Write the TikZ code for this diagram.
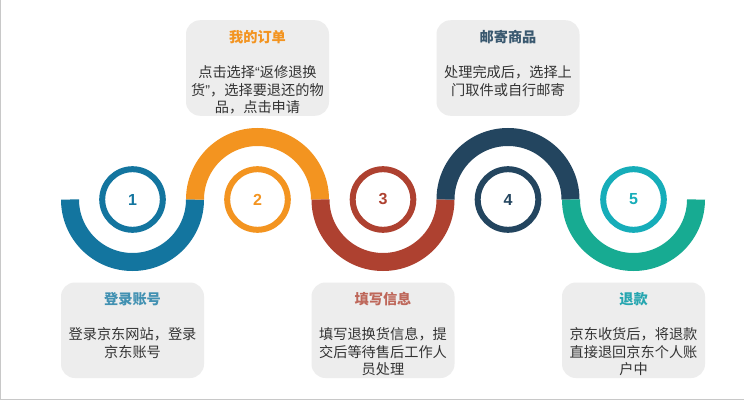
\documentclass[tikz,border=0pt]{standalone}
\usepackage{fontspec}
\setmainfont{Noto Sans CJK SC}
\newfontfamily\numfont{Liberation Sans}
\definecolor{cblue}{HTML}{13759F}
\definecolor{corange}{HTML}{F39420}
\definecolor{cred}{HTML}{AE4130}
\definecolor{cnavy}{HTML}{23455F}
\definecolor{ccyan}{HTML}{16ADB9}
\definecolor{cgreen}{HTML}{17AB92}
\definecolor{boxgray}{HTML}{EDEDED}
\definecolor{bodygray}{HTML}{333333}
\definecolor{edgegray}{HTML}{C8C8C8}
\tikzset{
  band/.style={line width=18pt,line cap=butt,draw=#1},
  ring/.style={circle,draw=#1,line width=6pt,fill=white,minimum size=60.6pt,inner sep=0pt,
    font=\numfont\bfseries\fontsize{16}{16}\selectfont,text=#1},
  infobox/.style={rectangle,rounded corners=14pt,fill=boxgray,minimum width=143pt,minimum height=95.5pt,inner sep=0pt},
  boxtitle/.style={font=\fontsize{14.2}{17}\selectfont\bfseries,text=#1,inner sep=0pt},
  boxbody/.style={font=\fontsize{14.2}{17.4}\selectfont,text=bodygray,align=center,inner sep=0pt,anchor=north},
}
\begin{document}
\begin{tikzpicture}[x=1pt,y=1pt]
\useasboundingbox (0,0) rectangle (744,400);
\fill[white] (0,0) rectangle (744,400);
\draw[edgegray,line width=1pt] (0.5,400) -- (0.5,0.5) -- (744,0.5);
% wave bands
\draw[band=cblue]   (70,200.5) arc[start angle=180,end angle=360,radius=62.5];
\draw[band=corange] (195,200.5) arc[start angle=180,end angle=0,radius=62.5];
\draw[band=cred]    (320.5,200.5) arc[start angle=180,end angle=360,radius=62.5];
\draw[band=cnavy]   (445.5,200.5) arc[start angle=180,end angle=0,radius=62.5];
\draw[band=cgreen]  (571,200.5) arc[start angle=180,end angle=360,radius=62.5];
% rings
\node[ring=cblue]   (n1) at (132.5,200.5) {1};
\node[ring=corange] (n2) at (257.5,200.5) {2};
\node[ring=cred]    (n3) at (383,200.5) {3};
\node[ring=cnavy]   (n4) at (508,200.5) {4};
\node[ring=ccyan]   (n5) at (633.5,200.5) {5};
% boxes
\node[infobox] (b1) at (132.5,69.75) {};
\node[infobox] (b2) at (257.5,332) {};
\node[infobox] (b3) at (383,69.75) {};
\node[infobox] (b4) at (508,332) {};
\node[infobox] (b5) at (633.5,69.75) {};
% titles
\node[boxtitle=cblue!80!white]   (t1) at (132.5,101) {登录账号};
\node[boxtitle=corange]          (t2) at (257.5,363) {我的订单};
\node[boxtitle=cred!80!white]    (t3) at (383,101) {填写信息};
\node[boxtitle=cnavy!90!white]   (t4) at (508,363) {邮寄商品};
\node[boxtitle=ccyan!85!gray]    (t5) at (633.5,101) {退款};
% bodies
\node[boxbody] (d1) at (132.5,72.5) {登录京东网站，登录\\京东账号};
\node[boxbody] (d2) at (257.5,334.5) {点击选择{\numfont “}返修退换\\货{\numfont ”}，选择要退还的物\\品，点击申请};
\node[boxbody] (d3) at (383,72.5) {填写退换货信息，提\\交后等待售后工作人\\员处理};
\node[boxbody] (d4) at (508,334.5) {处理完成后，选择上\\门取件或自行邮寄};
\node[boxbody] (d5) at (633.5,72.5) {京东收货后，将退款\\直接退回京东个人账\\户中};
\end{tikzpicture}
\end{document}
